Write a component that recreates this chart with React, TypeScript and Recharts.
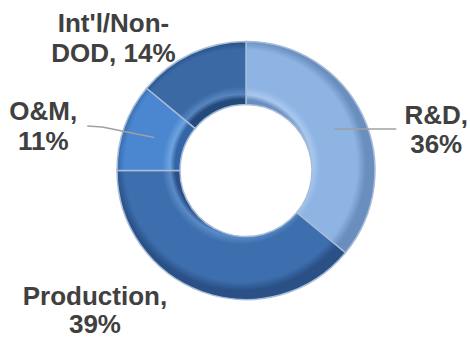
import React from "react";
import { PieChart, Pie, Cell } from "recharts";

const categories = ["R&D", "Production", "O&M", "Int'l/Non-DOD"];
const shares = [36, 39, 11, 14];
const labelLines: string[][] = [
  ["R&D,", "36%"],
  ["Production,", "39%"],
  ["O&M,", "11%"],
  ["Int'l/Non-", "DOD, 14%"],
];

const baseColors = ["#8db4e3", "#3d6fae", "#4a87d0", "#3a69a4"];
const lightColors = ["#a9c8ee", "#5a8bc8", "#6ea2e0", "#5785c0"];
const darkColors = ["#6a8fbe", "#2a5086", "#3366a6", "#244a7c"];

// label layout relative to the mid-ring anchor point of each slice
const labelLayout: Record<string, { dx: number; dy: number[]; line?: number[][] }> = {
  "R&D": { dx: 102, dy: [-5, 24], line: [[62, 0]] },
  Production: { dx: -118, dy: [43, 71] },
  "O&M": { dx: -111, dy: [-17.5, 12.5], line: [[-52, -10.5], [-67, -11.5]] },
  "Int'l/Non-DOD": { dx: -91, dy: [-50, -20] },
};

const data = categories.map((name, i) => ({ name, value: shares[i], idx: i }));

const CX = 241;
const CY = 165.5;
const IR = 66;
const OR = 129;
const RAD = Math.PI / 180;

const renderLabel = (props: any) => {
  const { cx, cy, midAngle, innerRadius, outerRadius, index } = props;
  const name = categories[index];
  const lay = labelLayout[name];
  const r = (innerRadius + outerRadius) / 2;
  const ax = cx + r * Math.cos(-midAngle * RAD);
  const ay = cy + r * Math.sin(-midAngle * RAD);
  const lines = labelLines[index];
  let path = "";
  if (lay.line) {
    path = `M${ax},${ay}` + lay.line.map((p) => ` L${ax + p[0]},${ay + p[1]}`).join("");
  }
  return (
    <g key={`lbl-${index}`}>
      {path && <path d={path} stroke="#a0a0a0" strokeWidth={1.5} fill="none" />}
      {lines.map((t, k) => (
        <text
          key={k}
          x={ax + lay.dx}
          y={ay + lay.dy[k]}
          textAnchor="middle"
          fill="#404040"
          fontFamily="'Liberation Sans', Arial, sans-serif"
          fontWeight="bold"
          fontSize={26}
        >
          {t}
        </text>
      ))}
    </g>
  );
};

export default function App() {
  const inner = IR / OR;
  return (
    <div style={{ position: "absolute", left: 0, top: 0, width: 470, height: 341, background: "#fff" }}>
      <PieChart width={470} height={341}>
        <defs>
          {baseColors.map((c, i) => (
            <radialGradient
              key={i}
              id={`g${i}`}
              gradientUnits="userSpaceOnUse"
              cx={CX}
              cy={CY}
              r={OR}
              fx={CX}
              fy={CY}
            >
              <stop offset={inner} stopColor={darkColors[i]} />
              <stop offset={inner + 0.04} stopColor={lightColors[i]} />
              <stop offset={inner + 0.1} stopColor={c} />
              <stop offset={0.9} stopColor={c} />
              <stop offset={0.97} stopColor={darkColors[i]} />
              <stop offset={1} stopColor={darkColors[i]} />
            </radialGradient>
          ))}
        </defs>
        <Pie
          data={data}
          dataKey="value"
          nameKey="name"
          cx={CX}
          cy={CY}
          innerRadius={IR}
          outerRadius={OR}
          startAngle={90}
          endAngle={-270}
          stroke="#a7bcd8"
          strokeWidth={1.5}
          label={renderLabel}
          labelLine={false}
          isAnimationActive={false}
        >
          {data.map((d, i) => (
            <Cell key={d.name} fill={`url(#g${i})`} />
          ))}
        </Pie>
      </PieChart>
    </div>
  );
}
